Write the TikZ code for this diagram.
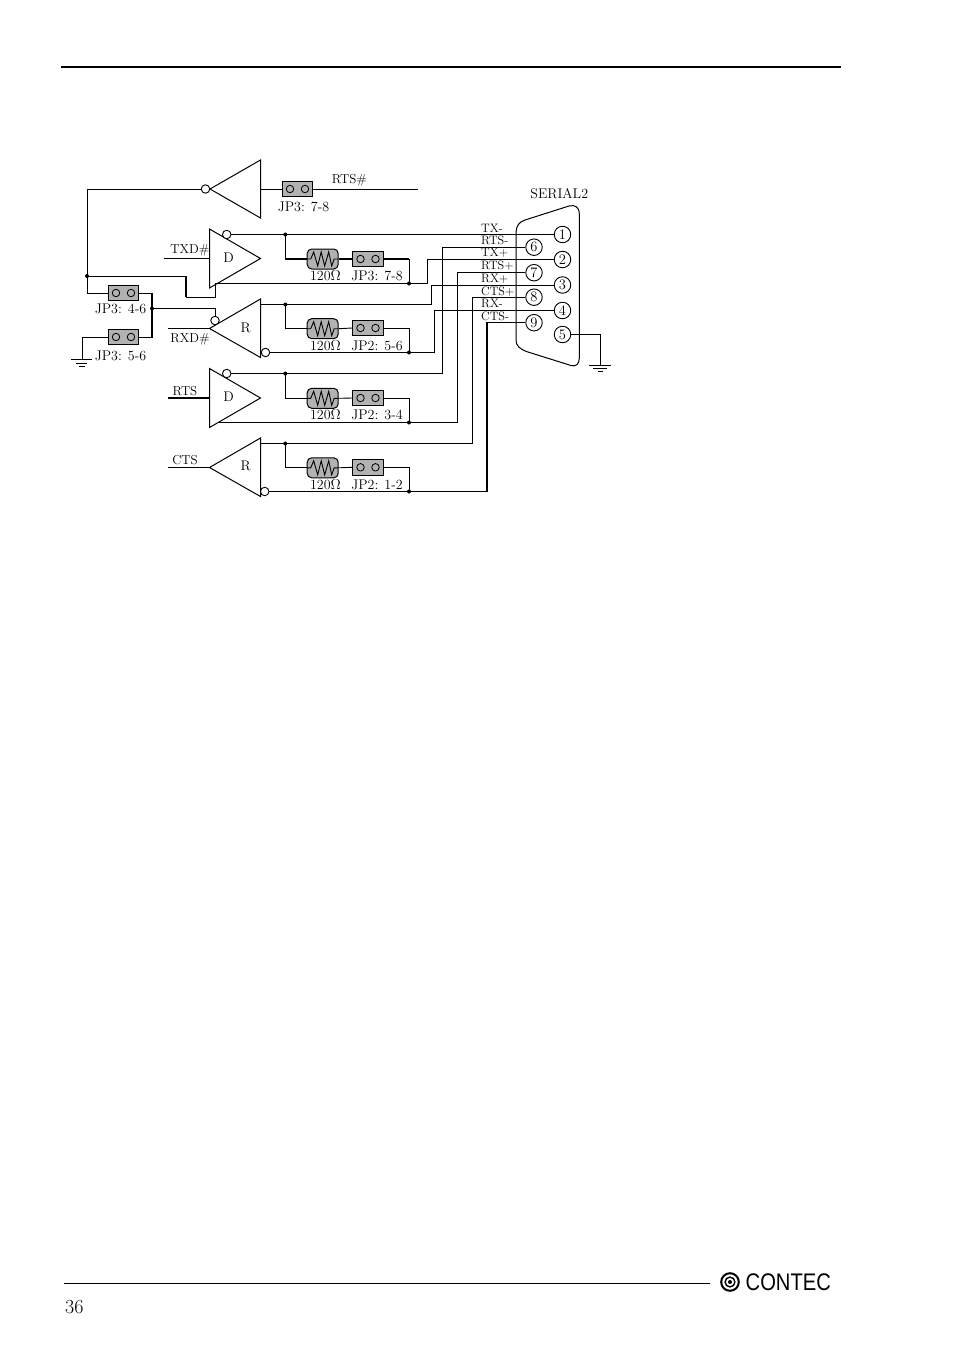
\documentclass[tikz,border=0pt]{standalone}
\usepackage{fontspec}
\newfontfamily\logofont[FakeStretch=0.84]{Liberation Sans}
\tikzset{
  wire/.style={line width=0.9pt,line join=miter},
  thickwire/.style={line width=1.9pt,line join=miter},
  gate/.style={line width=1pt,line join=miter},
  bubble/.style={circle,draw,line width=0.9pt,fill=white,minimum size=8.5pt,inner sep=0pt},
  junction/.style={circle,fill=black,minimum size=4pt,inner sep=0pt},
  pinbox/.style={circle,draw,line width=0.9pt,fill=white,minimum size=16.5pt,inner sep=0pt,font=\fontsize{14.5}{14.5}\selectfont},
  jumperbox/.style={rectangle,draw,line width=1pt,fill=black!30,minimum width=30.5pt,minimum height=15.5pt,inner sep=0pt},
  jumperpin/.style={circle,draw,line width=0.8pt,minimum size=7.5pt,inner sep=0pt},
  resbox/.style={rectangle,rounded corners=4.5pt,draw,line width=1pt,fill=black!30,minimum width=31pt,minimum height=20pt,inner sep=0pt},
  lab/.style={inner sep=0pt,font=\fontsize{13}{13}\selectfont},
  jlab/.style={inner sep=0pt,font=\fontsize{14}{14}\selectfont},
  sig/.style={inner sep=0pt,anchor=west,font=\fontsize{12.2}{12.2}\selectfont},
}
\newcommand{\jumperat}[3]{%
  \node[jumperbox] (#1) at (#2,#3) {};
  \node[jumperpin] (#1a) at (#2-7.5,#3) {};
  \node[jumperpin] (#1b) at (#2+7.5,#3) {};}
\newcommand{\resistorat}[3]{%
  \node[resbox] (#1) at (#2,#3) {};
  \draw[wire,shift={(#2,#3)}] (-15.5,0) -- (-12,0) -- (-9,-7) -- (-5,7) -- (-1.5,-7) -- (2,7) -- (6,-7) -- (9,7) -- (11.5,0) -- (15.5,0);}
\begin{document}
\begin{tikzpicture}[x=1pt,y=-1pt]
\useasboundingbox (0,0) rectangle (954,1352);
\fill[white] (0,0) rectangle (954,1352);
% page furniture
\coordinate (ruleTL) at (61,67); \coordinate (ruleTR) at (841,67);
\draw[line width=1.7pt] (ruleTL) -- (ruleTR);
\coordinate (ruleBL) at (64,1283.5); \coordinate (ruleBR) at (710,1283.5);
\draw[line width=0.9pt] (ruleBL) -- (ruleBR);
\node[inner sep=0pt,anchor=west,font=\fontsize{20}{20}\selectfont] (pageno) at (65,1307) {36};
\draw[line width=2pt] (730,1282) circle (8.8);
\draw[line width=1.4pt] (730,1282) circle (4.9);
\fill (730,1282) circle (2);
\node[inner sep=0pt,anchor=west,font=\logofont\fontsize{24}{24}\selectfont] (logo) at (745.5,1282) {CONTEC};
% gates
\coordinate (u0tip) at (210,189); \coordinate (u0a) at (260.5,160); \coordinate (u0b) at (260.5,218);
\draw[gate] (u0tip) -- (u0a) -- (u0b) -- cycle;
\coordinate (u1a) at (209.5,229); \coordinate (u1b) at (209.5,288); \coordinate (u1tip) at (260.5,258.5);
\draw[gate] (u1a) -- (u1tip) -- (u1b) -- cycle;
\coordinate (u2tip) at (209.5,328.5); \coordinate (u2a) at (260.5,299); \coordinate (u2b) at (260.5,357.5);
\draw[gate] (u2tip) -- (u2a) -- (u2b) -- cycle;
\coordinate (u3a) at (209.5,368.5); \coordinate (u3b) at (209.5,427.5); \coordinate (u3tip) at (260.5,398);
\draw[gate] (u3a) -- (u3tip) -- (u3b) -- cycle;
\coordinate (u4tip) at (209.5,467.5); \coordinate (u4a) at (260.5,438); \coordinate (u4b) at (260.5,496.5);
\draw[gate] (u4tip) -- (u4a) -- (u4b) -- cycle;
\node[jlab] (lD1) at (228.5,258) {D};
\node[jlab] (lR1) at (245.7,327.7) {R};
\node[jlab] (lD2) at (228.5,397) {D};
\node[jlab] (lR2) at (245.7,465.5) {R};
% bubbles
\node[bubble] (b0) at (205.5,189) {};
\node[bubble] (b1) at (226.7,234.5) {};
\node[bubble] (b2in) at (215,320.5) {};
\node[bubble] (b2) at (265.5,352.5) {};
\node[bubble] (b3) at (226.7,373.5) {};
\node[bubble] (b4) at (264.7,491.5) {};
% jumpers and resistors
\jumperat{j0}{297.5}{189}
\jumperat{j46}{123.5}{293}
\jumperat{j56}{123.5}{337}
\jumperat{j1}{368}{259}
\jumperat{j2}{368}{328}
\jumperat{j3}{368}{398}
\jumperat{j4}{368}{467.3}
\resistorat{r1}{322.7}{259}
\resistorat{r2}{322.7}{328.7}
\resistorat{r3}{322.7}{398.3}
\resistorat{r4}{322.7}{467.8}
% junctions
\node[junction] (d0) at (87,276) {};
\node[junction] (d46) at (152,308.5) {};
\node[junction] (d1t) at (285.3,234.5) {};
\node[junction] (d1b) at (409,283.5) {};
\node[junction] (d2t) at (285.3,304.5) {};
\node[junction] (d2b) at (409,352.5) {};
\node[junction] (d3t) at (285.3,373.5) {};
\node[junction] (d3b) at (409,422.5) {};
\node[junction] (d4t) at (285.3,443.5) {};
\node[junction] (d4b) at (409,491.5) {};
% connector shell and pins
\draw[line width=1pt] (516,340) -- (516,233) .. controls (516,226) and (519,222) .. (525,220) -- (569,206) .. controls (575,204.5) and (579.3,207) .. (579.3,214) -- (579.3,358) .. controls (579.3,364) and (576,367) .. (571,365.5) -- (527,351.7) .. controls (520,349) and (516,346) .. (516,340);
\node[pinbox] (p1) at (562.5,234.5) {1};
\node[pinbox] (p2) at (562.5,259.5) {2};
\node[pinbox] (p3) at (562.5,285) {3};
\node[pinbox] (p4) at (562.5,310.5) {4};
\node[pinbox] (p5) at (562.5,334.5) {5};
\node[pinbox] (p6) at (534,247.2) {6};
\node[pinbox] (p7) at (534,272.7) {7};
\node[pinbox] (p8) at (534,297.2) {8};
\node[pinbox] (p9) at (534,322.7) {9};
% free ends
\coordinate (rtsEnd) at (418,189);
\coordinate (leftTop) at (87,189);
\coordinate (txdStart) at (164,258.5);
\coordinate (rxdStart) at (168,328.5);
\coordinate (rtsStart) at (168,398);
\coordinate (ctsStart) at (168,467.5);
\coordinate (g1) at (82,359.5);
\coordinate (g5) at (600.3,365.5);
% top inverter
\draw[wire] (u0a |- u0tip) -- (j0.west);
\draw[wire] (j0.east) -- (rtsEnd);
\draw[wire] (b0.west) -- (leftTop) -- (d0.center);
\draw[wire] (d0.center) |- (j46.west);
% enable network
\draw[wire] (d0.center) -- (186,276);
\draw[line width=1.6pt] (186,276) -- (186,297.3);
\draw[line width=1.1pt] (186,297.3) -- (215.5,297.3);
\draw[wire] (215.5,297.3) -- (215.5,285);
\draw[wire] (j46.east) -- (152,293);
\draw[thickwire] (152,292.5) -- (152,337.5);
\draw[wire] (152,337) -- (j56.east);
\draw[wire] (d46.center) -- (215,308.5) -- (b2in.north);
\draw[wire] (j56.west) -- (82,337) -- (g1);
\draw[wire] (71,359.5) -- (92,359.5) (76,363) -- (87,363) (78.5,366) -- (84.5,366);
% inputs
\draw[wire] (txdStart) -- (txdStart -| u1a);
\draw[wire] (rxdStart) -- (u2tip);
\draw[thickwire] (rtsStart) -- (rtsStart -| u3a);
\draw[wire] (ctsStart) -- (u4tip);
% channel 1
\draw[wire] (b1.east) -- (d1t.center) -- (p1.west);
\draw[wire] (d1t.center) -- (285.3,259);
\draw[thickwire] (284.8,259) -- (r1.west);
\draw[thickwire] (r1.east) -- (j1.west);
\draw[thickwire] (j1.east) -- (409.4,259);
\draw[wire] (409,259) -- (d1b.center);
\draw[wire] (215,283.5) -- (d1b.center) -- (427.5,283.5) -- (427.5,259.5);
\draw[thickwire] (427,259.5) -- (p2.west);
% channel 2
\draw[wire] (u2a |- d2t) -- (d2t.center) -- (431.3,304.5) -- (431.3,285) -- (p3.west);
\draw[wire] (d2t.center) -- (285.3,328.7) -- (r2.west);
\draw[wire] (r2.east) -- (j2.west);
\draw[wire] (j2.east) -- (409,328) -- (d2b.center);
\draw[wire] (b2.east) -- (d2b.center) -- (434.7,352.5) -- (434.7,310.5) -- (p4.west);
% channel 3
\draw[wire] (b3.east) -- (d3t.center) -- (442.5,373.5) -- (442.5,247.2) -- (p6.west);
\draw[wire] (d3t.center) -- (285.3,398.3) -- (r3.west);
\draw[wire] (r3.east) -- (j3.west);
\draw[wire] (j3.east) -- (409,398) -- (d3b.center);
\draw[wire] (218,422.5) -- (d3b.center) -- (457.5,422.5) -- (457.5,272.7) -- (p7.west);
% channel 4
\draw[wire] (u4a |- d4t) -- (d4t.center) -- (472.7,443.5) -- (472.7,297.2) -- (p8.west);
\draw[wire] (d4t.center) -- (285.3,467.8) -- (r4.west);
\draw[wire] (r4.east) -- (j4.west);
\draw[wire] (j4.east) -- (409,467.3) -- (d4b.center);
\draw[wire] (b4.east) -- (d4b.center) -- (486.7,491.5);
\draw[thickwire] (486.7,492) -- (486.7,322);
\draw[wire] (486.7,322.7) -- (p9.west);
% pin 5 ground
\draw[wire] (p5.east) -- (600.3,334.5) -- (g5);
\draw[wire] (589,365.5) -- (611,365.5) (593,368.5) -- (607,368.5) (598,371.5) -- (603,371.5);
% labels
\node[lab] (lRTSn) at (349.5,180) {RTS\#};
\node[jlab] (lJ0) at (303.5,206.5) {JP3: 7-8};
\node[jlab] (lSer) at (559.3,194) {SERIAL2};
\node[lab] (lTXD) at (190,250) {TXD\#};
\node[lab] (lRXD) at (190,339) {RXD\#};
\node[lab] (lRTS) at (185,391) {RTS};
\node[lab] (lCTS) at (185,460.3) {CTS};
\node[jlab] (lJ46) at (120.5,309.3) {JP3: 4-6};
\node[jlab] (lJ56) at (120.5,356.3) {JP3: 5-6};
\node[jlab] (lO1) at (325.5,275.7) {120$\Omega$};
\node[jlab] (lO2) at (325.5,345.5) {120$\Omega$};
\node[jlab] (lO3) at (325.5,415) {120$\Omega$};
\node[jlab] (lO4) at (325.5,484.5) {120$\Omega$};
\node[jlab] (lJ1) at (377,275.7) {JP3: 7-8};
\node[jlab] (lJ2) at (377,345.5) {JP2: 5-6};
\node[jlab] (lJ3) at (377,415) {JP2: 3-4};
\node[jlab] (lJ4) at (377,484.5) {JP2: 1-2};
\node[sig] (s1) at (481,228.5) {TX-};
\node[sig] (s2) at (481,240.7) {RTS-};
\node[sig] (s3) at (481,253) {TX+};
\node[sig] (s4) at (481,265.7) {RTS+};
\node[sig] (s5) at (481,278.5) {RX+};
\node[sig] (s6) at (481,291.7) {CTS+};
\node[sig] (s7) at (481,303.5) {RX-};
\node[sig] (s8) at (481,316.7) {CTS-};
\end{tikzpicture}
\end{document}
